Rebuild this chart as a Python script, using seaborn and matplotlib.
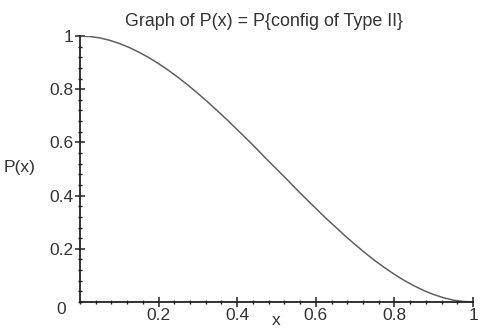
import matplotlib
matplotlib.use("Agg")
import matplotlib.pyplot as plt
import seaborn as sns
import pandas as pd
from matplotlib.ticker import AutoMinorLocator, FixedLocator

# Values
x_vals = [0.0, 0.025, 0.05, 0.075, 0.1, 0.125, 0.15, 0.175, 0.2, 0.225, 0.25,
          0.275, 0.3, 0.325, 0.35, 0.375, 0.4, 0.425, 0.45, 0.475, 0.5,
          0.525, 0.55, 0.575, 0.6, 0.625, 0.65, 0.675, 0.7, 0.725, 0.75,
          0.775, 0.8, 0.825, 0.85, 0.875, 0.9, 0.925, 0.95, 0.975, 1.0]
p_vals = [1.0, 0.998, 0.993, 0.984, 0.972, 0.957, 0.939, 0.919, 0.896, 0.871, 0.844,
          0.815, 0.784, 0.752, 0.718, 0.684, 0.648, 0.612, 0.575, 0.537, 0.5,
          0.463, 0.425, 0.388, 0.352, 0.316, 0.282, 0.248, 0.216, 0.185, 0.156,
          0.129, 0.104, 0.081, 0.061, 0.043, 0.028, 0.016, 0.007, 0.002, 0.0]
x_ticks = [0.2, 0.4, 0.6, 0.8, 1.0]
x_tick_labels = ["0.2", "0.4", "0.6", "0.8", "1"]
y_ticks = [0.2, 0.4, 0.6, 0.8, 1.0]
y_tick_labels = ["0.2", "0.4", "0.6", "0.8", "1"]
title = "Graph of P(x) = P{config of Type II}"

sns.set_theme(style="white")
plt.rcParams["font.family"] = ["Liberation Sans", "DejaVu Sans"]

FS = 12.5
W, H = 486, 330
fig = plt.figure(figsize=(W / 100, H / 100), dpi=100)
ax = fig.add_axes([80 / W, 1 - 302 / H, (473 - 80) / W, (302 - 36) / H])

df = pd.DataFrame({"x": x_vals, "P": p_vals})
sns.lineplot(data=df, x="x", y="P", ax=ax, color="#606060", linewidth=1.1)

ax.set_xlim(0, 1)
ax.set_ylim(0, 1)
for s in ["top", "right"]:
    ax.spines[s].set_visible(False)
for s in ["left", "bottom"]:
    ax.spines[s].set_color("#222222")
    ax.spines[s].set_linewidth(1.3)

ax.xaxis.set_major_locator(FixedLocator(x_ticks))
ax.yaxis.set_major_locator(FixedLocator(y_ticks))
ax.set_xticklabels(x_tick_labels)
ax.set_yticklabels(y_tick_labels)
ax.xaxis.set_minor_locator(AutoMinorLocator(5))
ax.yaxis.set_minor_locator(AutoMinorLocator(5))
ax.tick_params(which="major", direction="inout", length=7, width=1.1,
               color="#222222", labelsize=FS, labelcolor="#333333", pad=1,
               bottom=True, left=True)
ax.tick_params(which="minor", direction="inout", length=3.5, width=1.0,
               color="#222222", bottom=True, left=True)

ax.text(-0.035, -0.03, "0", transform=ax.transData, ha="right", va="center",
        fontsize=FS, color="#333333", clip_on=False)

ax.set_xlabel("")
ax.set_ylabel("")
fig.text(20 / W, 1 - 168 / H, "P(x)", ha="center", va="center",
         fontsize=FS, color="#333333")
fig.text(276 / W, 1 - 325 / H, "x", ha="center", va="baseline",
         fontsize=FS, color="#333333")
fig.text(263.5 / W, 1 - 21 / H, title, ha="center", va="center",
         fontsize=12.9, color="#333333")

fig.savefig("out.png", dpi=100)
